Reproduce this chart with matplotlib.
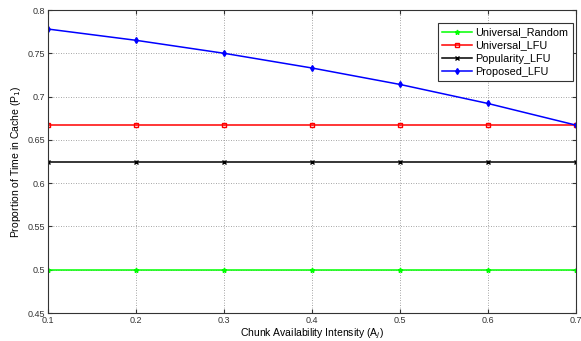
import matplotlib
matplotlib.use('Agg')
import matplotlib.pyplot as plt

# chunk availability intensity
x_vals = [0.1, 0.2, 0.3, 0.4, 0.5, 0.6, 0.7]
universal_random = [0.5, 0.5, 0.5, 0.5, 0.5, 0.5, 0.5]
universal_lfu = [0.667, 0.667, 0.667, 0.667, 0.667, 0.667, 0.667]
popularity_lfu = [0.625, 0.625, 0.625, 0.625, 0.625, 0.625, 0.625]
proposed_lfu = [0.778, 0.765, 0.750, 0.733, 0.714, 0.692, 0.667]

y_ticks = [0.45, 0.5, 0.55, 0.6, 0.65, 0.7, 0.75, 0.8]
y_labels = ['0.45', '0.5', '0.55', '0.6', '0.65', '0.7', '0.75', '0.8']

plt.rcParams['font.family'] = ['Liberation Sans', 'DejaVu Sans']
fig = plt.figure(figsize=(5.81, 3.41), dpi=100)
ax = fig.add_axes([48 / 581, 1 - 313 / 341, 528 / 581, 303 / 341])

ax.plot(x_vals, universal_random, color=(0, 1, 0), marker='*', markersize=3.5, lw=1.1, label='Universal_Random')
ax.plot(x_vals, universal_lfu, color='red', marker='s', markersize=3.5, mfc='none', lw=1.1, label='Universal_LFU')
ax.plot(x_vals, popularity_lfu, color='black', marker='x', markersize=3, lw=1.1, label='Popularity_LFU')
ax.plot(x_vals, proposed_lfu, color='blue', marker='d', markersize=3, lw=1.1, label='Proposed_LFU')

ax.set_xlim(0.1, 0.7)
ax.set_ylim(0.45, 0.8)
ax.set_xticks(x_vals)
ax.set_xticklabels(['0.1', '0.2', '0.3', '0.4', '0.5', '0.6', '0.7'])
ax.set_yticks(y_ticks)
ax.set_yticklabels(y_labels)
ax.tick_params(direction='in', labelsize=6.5, length=3, top=True, right=True, colors='#333333', pad=2)
ax.grid(True, linestyle=(0, (1, 2)), color='#888888', lw=0.6)
for s in ax.spines.values():
    s.set_linewidth(0.8)
    s.set_color('#333333')

ax.set_xlabel('Chunk Availability Intensity (A$_j$)', fontsize=7.5, labelpad=1)
ax.set_ylabel('Proportion of Time in Cache (P$_1$)', fontsize=7.5, labelpad=3)

leg = ax.legend(loc='upper right', bbox_to_anchor=(0.994, 0.957), borderaxespad=0, fontsize=7.8,
                fancybox=False, edgecolor='#333333', framealpha=1, borderpad=0.4, labelspacing=0.3,
                handlelength=2.8, handletextpad=0.3)
leg.get_frame().set_linewidth(0.8)

fig.savefig('out.png', dpi=100)
